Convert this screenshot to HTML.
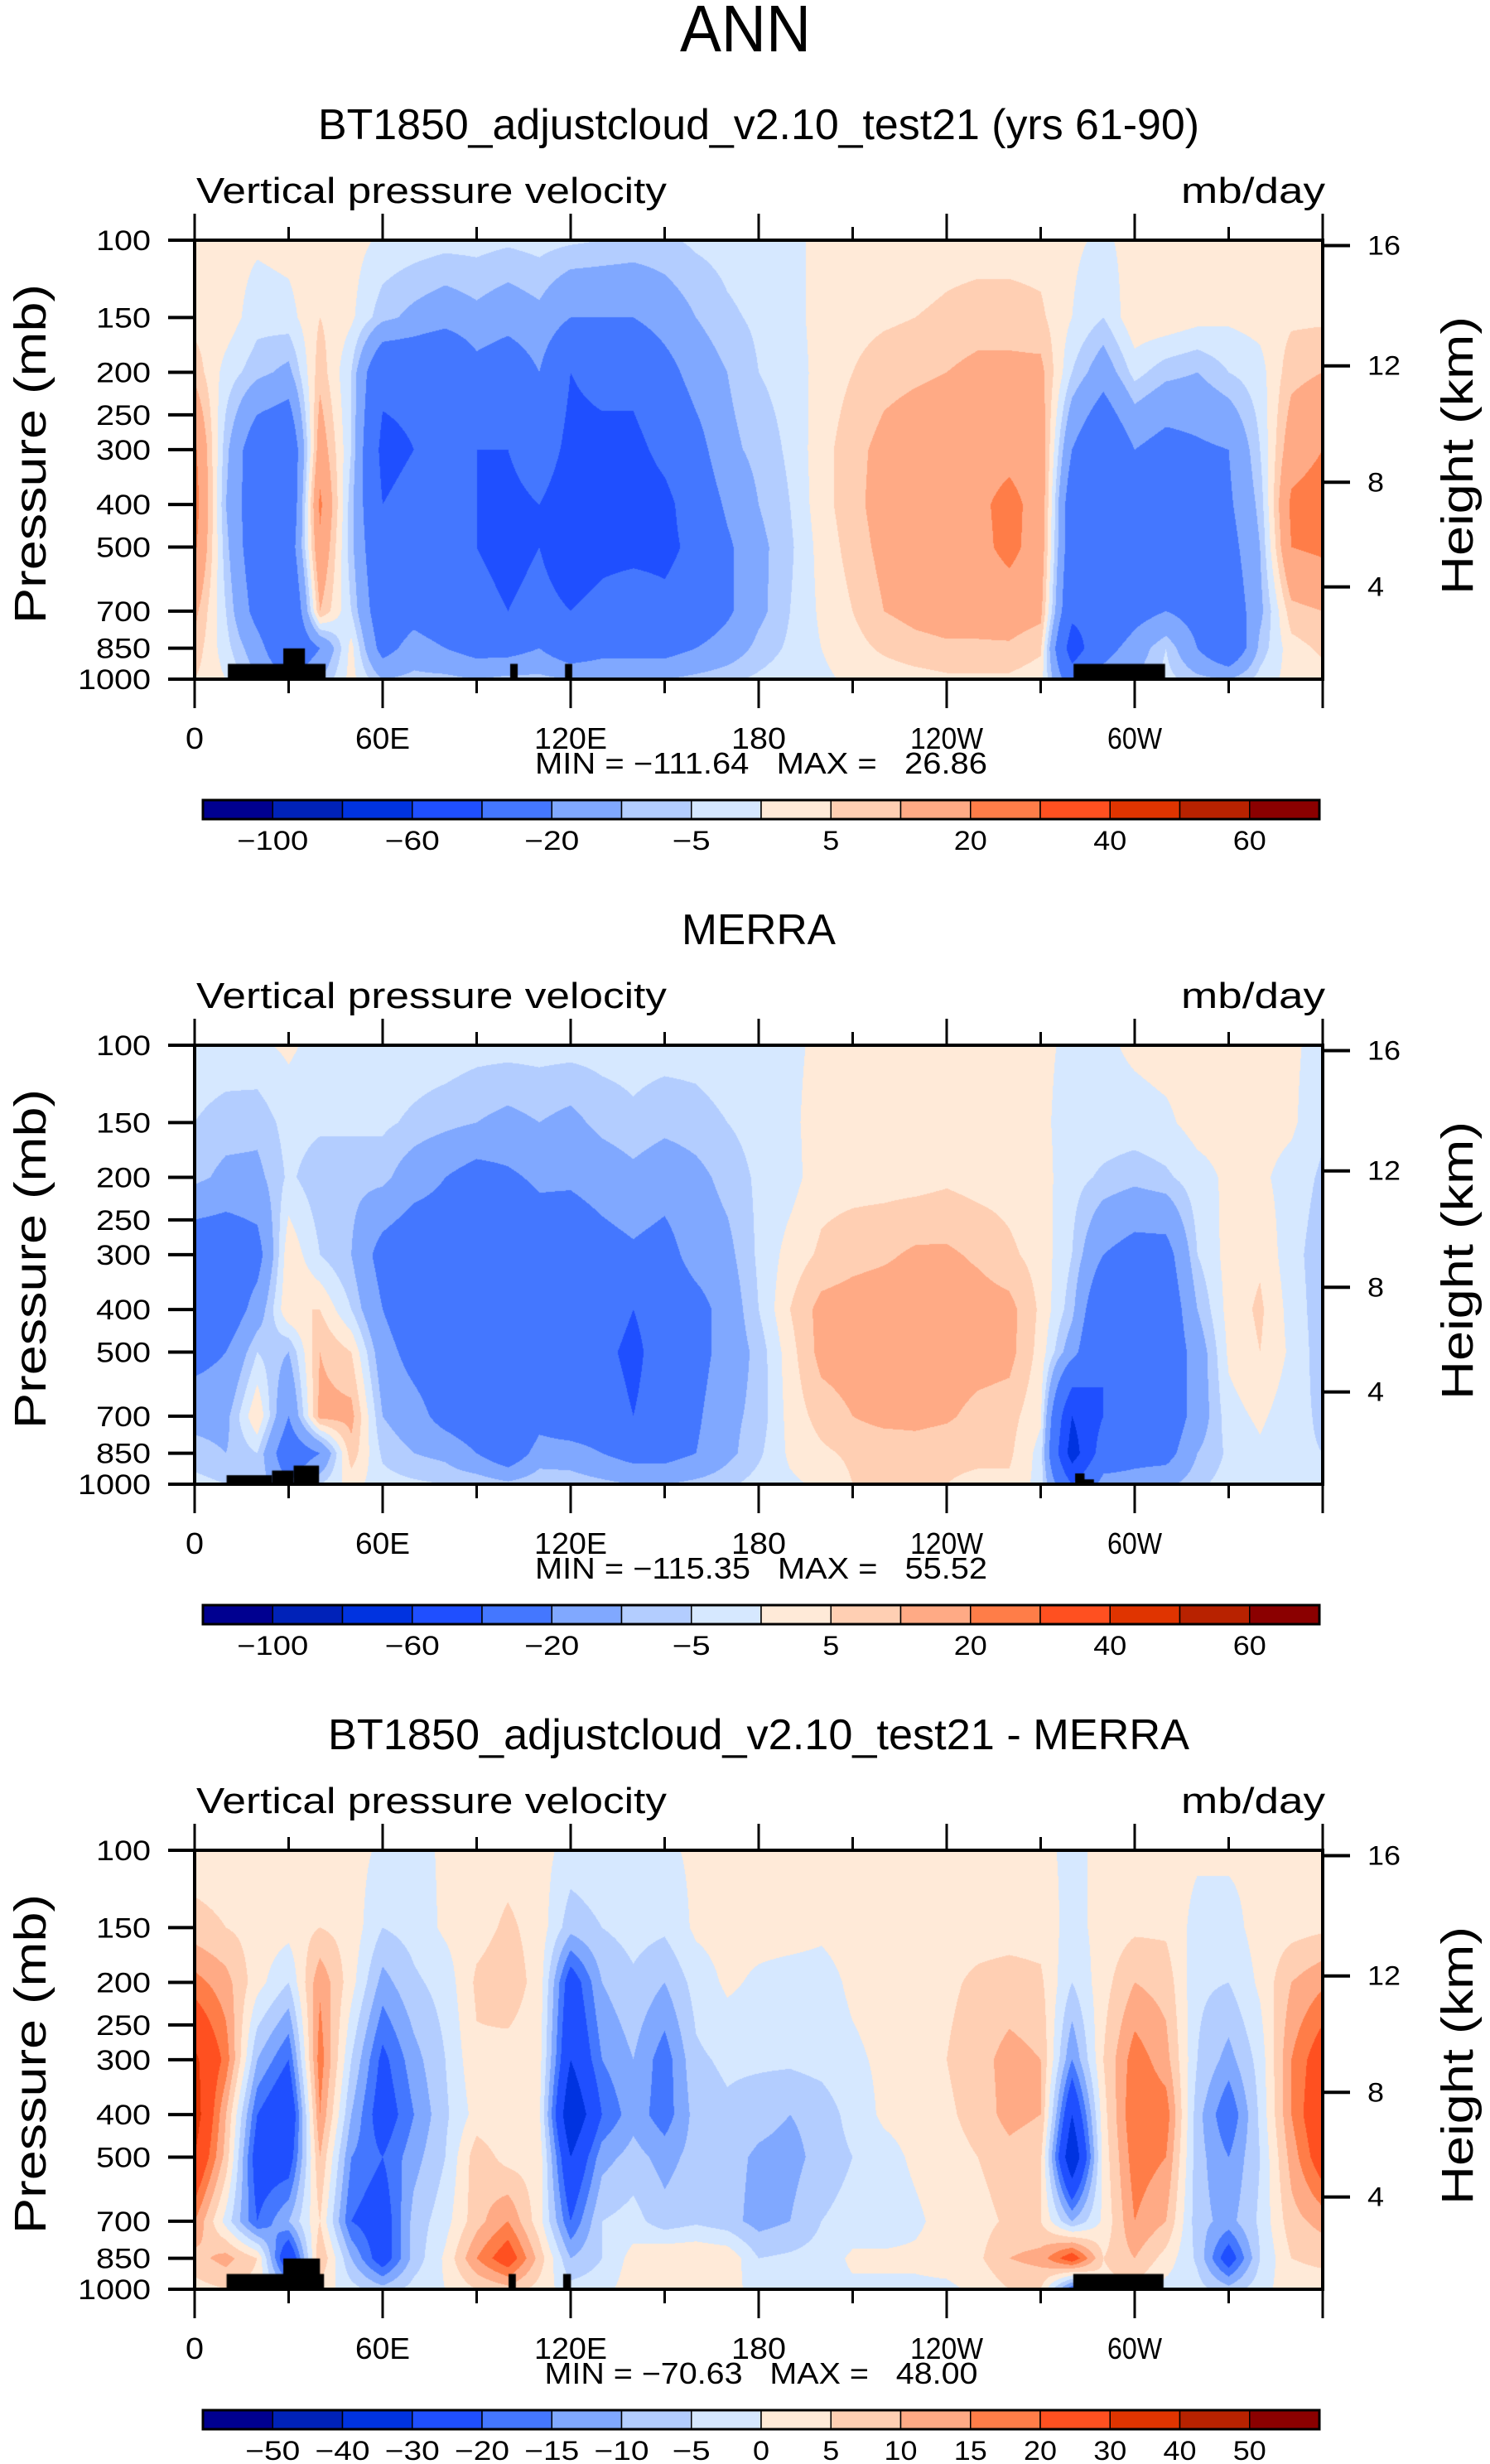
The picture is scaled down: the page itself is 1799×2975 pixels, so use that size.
<!DOCTYPE html>
<html><head><meta charset="utf-8">
<style>
html,body{margin:0;padding:0;background:#fff;}
#wrap{position:relative;width:1799px;height:2975px;overflow:hidden;background:#fff;}
canvas{position:absolute;}
svg{position:absolute;left:0;top:0;}
text{font-family:"Liberation Sans",sans-serif;fill:#000;}
</style></head>
<body>
<div id="wrap">
<canvas id="c1" width="1362" height="530" style="left:235px;top:290px"></canvas>
<canvas id="c2" width="1362" height="530" style="left:235px;top:1262px"></canvas>
<canvas id="c3" width="1362" height="530" style="left:235px;top:2234px"></canvas>
<svg id="ov" width="1799" height="2975" xmlns="http://www.w3.org/2000/svg">
<text x="900" y="62" font-size="80" text-anchor="middle" textLength="158" lengthAdjust="spacingAndGlyphs">ANN</text>
</svg>
</div>
<script>
// ---------- data ----------
const lons = [0,10,20,30,40,50,60,70,80,90,100,110,120,130,140,150,160,170,180,190,200,210,220,230,240,250,260,270,280,290,300,310,320,330,340,350,360];
const pLevels = [100,150,200,300,400,500,700,850,1000];
const yTickP = [100,150,200,250,300,400,500,700,850,1000];
const heightTicks = [16,12,8,4];
const xTickLon = [0,60,120,180,240,300];
const xTickLabels = ["0","60E","120E","180","120W","60W"];
const colors = ["#000090","#0022b8","#0033e0","#1f4fff","#4477ff","#80a8ff","#b3cdff","#d6e8ff","#ffead8","#ffcfb3","#ffaa85","#ff7d48","#ff5020","#e03400","#b82200","#8b0000"];
const levelsAbs = [-100,-80,-60,-40,-20,-10,-5,0,5,10,20,30,40,50,60];
const labelsAbs = ["−100","","−60","","−20","","−5","","5","","20","","40","","60"];
const levelsDiff = [-50,-40,-30,-20,-15,-10,-5,0,5,10,15,20,30,40,50];
const labelsDiff = ["−50","−40","−30","−20","−15","−10","−5","0","5","10","15","20","30","40","50"];

// columns per longitude; values at pLevels (100..1000 mb), mb/day
const modelField = [
[2,3,8,22,25,22,12,8,5],[2,3,-2,-8,-10,-8,-5,-3,0],[1,-3,-8,-30,-30,-30,-25,-15,-10],[2,-2,-12,-35,-35,-30,-40,-35,-20],
[3,5,8,15,22,18,10,-20,-10],[2,1,-5,-5,-8,-8,-5,2,2],[-1,-8,-35,-45,-40,-35,-30,-25,-10],[-2,-12,-35,-40,-35,-30,-25,-15,-8],
[-3,-15,-40,-40,-40,-35,-30,-20,-8],[-3,-12,-25,-40,-40,-40,-35,-25,-10],[-4,-15,-30,-40,-45,-45,-40,-25,-8],[-3,-12,-20,-30,-40,-40,-35,-20,-8],
[-4,-20,-40,-45,-50,-50,-40,-30,-10],[-5,-20,-35,-45,-50,-45,-35,-25,-10],[-6,-20,-35,-45,-50,-45,-30,-25,-10],[-6,-15,-25,-35,-45,-45,-35,-25,-10],
[-4,-10,-15,-25,-30,-35,-30,-20,-8],[-3,-6,-10,-12,-18,-22,-22,-15,-6],[-2,-4,-5,-8,-10,-12,-12,-8,-4],[-1,-2,-3,-4,-5,-6,-5,-4,-2],
[1,2,2,3,3,2,1,0,-1],[2,3,5,8,8,7,5,3,1],[2,4,8,12,13,12,10,6,2],[2,5,9,14,15,14,12,8,3],
[3,6,10,15,17,16,13,9,4],[3,7,12,16,18,17,13,9,4],[3,7,12,17,23,23,14,9,4],[3,6,12,15,16,15,12,6,2],
[1,0,-5,-20,-30,-30,-35,-50,-30],[-1,-5,-15,-35,-40,-40,-35,-25,-15],[2,4,-3,-20,-30,-30,-25,-15,-10],[2,4,-8,-25,-30,-25,-20,-5,-3],
[2,2,-10,-22,-22,-25,-25,-20,-8],[2,1,-5,-20,-22,-25,-30,-35,-10],[2,2,-2,-5,-8,-10,-12,-8,-3],[2,4,8,15,22,20,8,3,2],
[2,4,10,20,25,22,10,6,3]];
const merraField = [
[-2,-5,-8,-30,-30,-25,-12,-8,-3],[-2,-7,-12,-30,-30,-20,-12,-10,-5],[-1,-8,-12,-25,-15,-5,5,-5,-5],[1,-3,-4,4,5,-10,-20,-30,-20],
[-2,-4,-8,-5,5,10,12,-20,-5],[-2,-4,-8,-10,-5,5,12,8,2],[-2,-4,-8,-25,-20,-15,-10,-6,-3],[-2,-6,-15,-30,-30,-25,-15,-10,-4],
[-2,-8,-20,-28,-30,-30,-25,-12,-5],[-3,-10,-25,-30,-35,-40,-30,-20,-5],[-3,-12,-22,-35,-35,-35,-40,-30,-8],[-3,-10,-18,-28,-40,-35,-25,-15,-5],
[-3,-12,-18,-30,-35,-35,-30,-15,-6],[-3,-8,-15,-25,-30,-35,-30,-20,-8],[-3,-6,-12,-22,-40,-45,-40,-25,-10],[-3,-8,-15,-25,-30,-30,-30,-25,-10],
[-3,-7,-12,-15,-25,-25,-22,-20,-8],[-2,-5,-8,-12,-15,-15,-12,-12,-6],[-2,-3,-4,-4,-5,-8,-8,-6,-3],[-1,-1,-2,2,5,3,2,1,-1],
[1,2,3,6,12,12,7,4,1],[1,2,3,8,13,13,10,6,5],[1,2,3,9,14,14,12,6,6],[1,2,3,11,14,14,12,7,6],
[1,2,4,11,14,14,11,6,5],[1,2,3,9,13,13,8,6,4],[1,2,3,6,12,12,7,6,4],[1,1,2,3,4,3,1,-2,-2],
[-1,-2,-3,-5,-8,-15,-60,-70,-40],[-1,-2,-6,-20,-35,-40,-40,-30,-15],[1,-2,-8,-25,-35,-40,-35,-25,-15],[2,-1,-6,-25,-30,-30,-30,-25,-12],
[2,2,-2,-5,-10,-15,-15,-10,-6],[2,2,1,2,2,1,-2,-4,-3],[2,2,1,4,6,5,1,-1,-2],[1,1,-2,-3,-2,-1,-3,-4,-3],
[-2,-4,-6,-8,-8,-8,-6,-5,-3]];
const diffField = [
[2,7,17,32,35,30,15,8,3],[2,5,12,18,10,8,-2,12,5],[2,3,2,-10,-20,-25,-20,5,3],[2,2,-5,-20,-30,-25,-10,-30,-10],
[2,5,14,18,15,10,5,10,3],[2,3,2,-5,-10,-15,-20,-10,-3],[-1,-5,-12,-22,-25,-20,-25,-25,-8],[-2,-3,-6,-12,-15,-12,-8,-8,-3],
[1,1,-3,-5,-6,-5,-2,1,0],[2,3,6,4,2,8,8,15,5],[3,6,8,3,1,3,15,25,8],[2,3,3,2,1,3,2,8,3],
[-2,-8,-25,-30,-40,-30,-20,-10,-3],[-1,-5,-10,-15,-20,-12,-5,-5,-2],[-1,-3,-6,-10,-12,-8,-3,2,3],[-1,-4,-10,-18,-18,-12,-8,5,3],
[1,1,-3,-6,-8,-8,-6,5,3],[1,2,1,-4,-6,-8,-8,4,2],[1,2,-1,-4,-8,-11,-12,-5,-2],[1,2,-2,-4,-10,-12,-10,-4,-2],
[1,1,-2,-3,-8,-8,-5,-3,-2],[1,2,1,-1,-3,-5,-3,1,-1],[1,2,2,1,1,-2,-3,1,-1],[1,2,3,3,2,1,-1,1,-1],
[1,3,4,5,4,3,2,2,-1],[2,3,6,8,7,5,3,4,1],[2,3,7,12,12,8,6,10,5],[1,3,6,10,10,6,5,12,5],
[-1,-2,-5,-15,-30,-40,-10,25,-20],[1,2,3,5,3,2,1,5,3],[2,4,10,18,20,18,15,10,4],[2,4,8,12,18,15,10,3,-2],
[1,-2,-4,-5,-8,-8,-8,-6,-3],[1,-2,-5,-12,-20,-15,-12,-25,-8],[1,2,1,-3,-4,-5,-4,-5,-2],[1,3,10,15,15,12,8,5,3],
[2,4,14,25,28,25,12,6,3]];
// land masks: [lonStart, lonEnd, topPressure]
const landModel = [[10.6,41.8,923],[28.3,35.2,851],[100.7,103.1,923],[118.2,120.5,923],[280.5,309.7,923]];
const landMerra = [[10.2,24.7,954],[24.7,31.6,931],[31.6,39.7,907],[281,284,945],[283,287,975]];
const landDiff = [[10.2,41.3,923],[28.3,40,851],[100.2,102.5,923],[117.6,120.1,923],[280.4,309.2,923]];

// ---------- geometry ----------
const PX0 = 235, PW = 1362, PH = 530;
function xOf(lon){ return PX0 + lon/360*PW; }
function yOf(p, top){ return top + (Math.log10(p)-2)*PH; }
function pOfZ(zkm){ const z=zkm*1000; return z<=11000 ? 1013.25*Math.pow(1-2.25577e-5*z,5.25588) : 226.32*Math.exp(-(z-11000)/6341.6); }

function colorIndex(v, lev){ let i=0; while(i<lev.length && v>=lev[i]) i++; return i; }
function hexRgb(h){ return [parseInt(h.substr(1,2),16),parseInt(h.substr(3,2),16),parseInt(h.substr(5,2),16)]; }
const rgb = colors.map(hexRgb);
const logLev = pLevels.map(p=>Math.log10(p));

function drawField(canvasId, field, lev, land){
  const cv = document.getElementById(canvasId), ctx = cv.getContext('2d');
  const img = ctx.createImageData(PW, PH), d = img.data;
  for (let j=0;j<PH;j++){
    const lp = 2 + (j+0.5)/PH;
    let k=0; while(k<logLev.length-2 && lp>logLev[k+1]) k++;
    const t = Math.min(1,Math.max(0,(lp-logLev[k])/(logLev[k+1]-logLev[k])));
    for (let i=0;i<PW;i++){
      const lon = (i+0.5)/PW*360;
      let a = Math.min(lons.length-2, Math.floor(lon/10));
      const s = (lon-lons[a])/10;
      const v = (1-s)*((1-t)*field[a][k]+t*field[a][k+1]) + s*((1-t)*field[a+1][k]+t*field[a+1][k+1]);
      const c = rgb[colorIndex(v, lev)];
      const o = (j*PW+i)*4;
      d[o]=c[0]; d[o+1]=c[1]; d[o+2]=c[2]; d[o+3]=255;
    }
  }
  ctx.putImageData(img,0,0);
  ctx.fillStyle = '#000';
  for (const m of land){
    const x0 = m[0]/360*PW, x1 = m[1]/360*PW, y0 = (Math.log10(m[2])-2)*PH;
    ctx.fillRect(x0, y0, x1-x0, PH-y0);
  }
}
drawField('c1', modelField, levelsAbs, landModel);
drawField('c2', merraField, levelsAbs, landMerra);
drawField('c3', diffField, levelsDiff, landDiff);

// ---------- overlay ----------
const NS = 'http://www.w3.org/2000/svg';
const ov = document.getElementById('ov');
function mk(tag, attrs, txt){
  const e = document.createElementNS(NS, tag);
  for (const k in attrs) e.setAttribute(k, attrs[k]);
  if (txt !== undefined) e.textContent = txt;
  ov.appendChild(e);
  return e;
}
const S = '\u00a0';
const panels = [
  {top:290, title:"BT1850_adjustcloud_v2.10_test21 (yrs 61-90)", tlen:1064, minmax:"MIN = −111.64"+S+S+S+"MAX ="+S+S+S+"26.86", mlen:546, lev:labelsAbs, pre:'model'},
  {top:1262, title:"MERRA", tlen:186, minmax:"MIN = −115.35"+S+S+S+"MAX ="+S+S+S+"55.52", mlen:546, lev:labelsAbs, pre:'merra'},
  {top:2234, title:"BT1850_adjustcloud_v2.10_test21 - MERRA", tlen:1040, minmax:"MIN = −70.63"+S+S+S+"MAX ="+S+S+S+"48.00", mlen:523, lev:labelsDiff, pre:'diff'}
];
for (const P of panels){
  const T = P.top, B = T+PH;
  let e;
  e = mk('text',{x:916,y:T-122,'font-size':52,'text-anchor':'middle',textLength:P.tlen,lengthAdjust:'spacingAndGlyphs'},P.title);
  
  
  e = mk('text',{x:237,y:T-45,'font-size':44,textLength:568,lengthAdjust:'spacingAndGlyphs'},'Vertical pressure velocity');
  
  
  e = mk('text',{x:1600,y:T-45,'font-size':44,'text-anchor':'end',textLength:174,lengthAdjust:'spacingAndGlyphs'},'mb/day');
  
  
  e = mk('rect',{x:PX0,y:T,width:PW,height:PH,fill:'none',stroke:'#000','stroke-width':4});
  
  
  for (let lon=0; lon<=360; lon+=30){
    const major = lon%60===0, x = xOf(lon);
    e = mk('line',{x1:x,x2:x,y1:T-(major?32:16),y2:T,stroke:'#000','stroke-width':3});
    
    
    e = mk('line',{x1:x,x2:x,y1:B,y2:B+(major?35:17),stroke:'#000','stroke-width':3});
    
    
  }
  xTickLon.forEach((lon,i)=>{
    const L = xTickLabels[i];
    e = mk('text',{x:xOf(lon),y:B+84,'font-size':36,'text-anchor':'middle',textLength:L.length*22,lengthAdjust:'spacingAndGlyphs'},L);
    
    
  });
  e = mk('text',{x:919,y:B+114,'font-size':36,'text-anchor':'middle',textLength:P.mlen,lengthAdjust:'spacingAndGlyphs'},P.minmax);
  
  
  for (const p of yTickP){
    const y = yOf(p,T);
    e = mk('line',{x1:203,x2:PX0,y1:y,y2:y,stroke:'#000','stroke-width':4});
    
    
    const s = String(p);
    e = mk('text',{x:182,y:y+12,'font-size':34,'text-anchor':'end',textLength:s.length*22,lengthAdjust:'spacingAndGlyphs'},s);
    
    
  }
  e = mk('text',{transform:'translate(55,'+(T+258)+') rotate(-90)','font-size':54,'text-anchor':'middle',textLength:410,lengthAdjust:'spacingAndGlyphs'},'Pressure (mb)');
  
  
  for (const h of heightTicks){
    const y = yOf(pOfZ(h),T);
    e = mk('line',{x1:PX0+PW,x2:1630,y1:y,y2:y,stroke:'#000','stroke-width':4});
    
    
    const s = String(h);
    e = mk('text',{x:1651,y:y+11,'font-size':32,textLength:s.length*20,lengthAdjust:'spacingAndGlyphs'},s);
    
    
  }
  e = mk('text',{transform:'translate(1778,'+(T+260)+') rotate(-90)','font-size':54,'text-anchor':'middle',textLength:336,lengthAdjust:'spacingAndGlyphs'},'Height (km)');
  
  
  const cbY = T+676, cbH = 23, cbX = 245, cbW = 1348/16;
  colors.forEach((c,i)=>{
    e = mk('rect',{x:cbX+i*cbW,y:cbY,width:cbW,height:cbH,fill:c,stroke:'#000','stroke-width':1.5});
    
    
  });
  e = mk('rect',{x:cbX,y:cbY,width:1348,height:cbH,fill:'none',stroke:'#000','stroke-width':3});
  
  
  P.lev.forEach((L,i)=>{
    if (!L) return;
    const w = L.replace('−','').length*20 + (L[0]==='−'?26:0);
    e = mk('text',{x:cbX+(i+1)*cbW,y:cbY+60,'font-size':32,'text-anchor':'middle',textLength:w,lengthAdjust:'spacingAndGlyphs'},L);
    
    
  });
}
</script>
</body></html>
